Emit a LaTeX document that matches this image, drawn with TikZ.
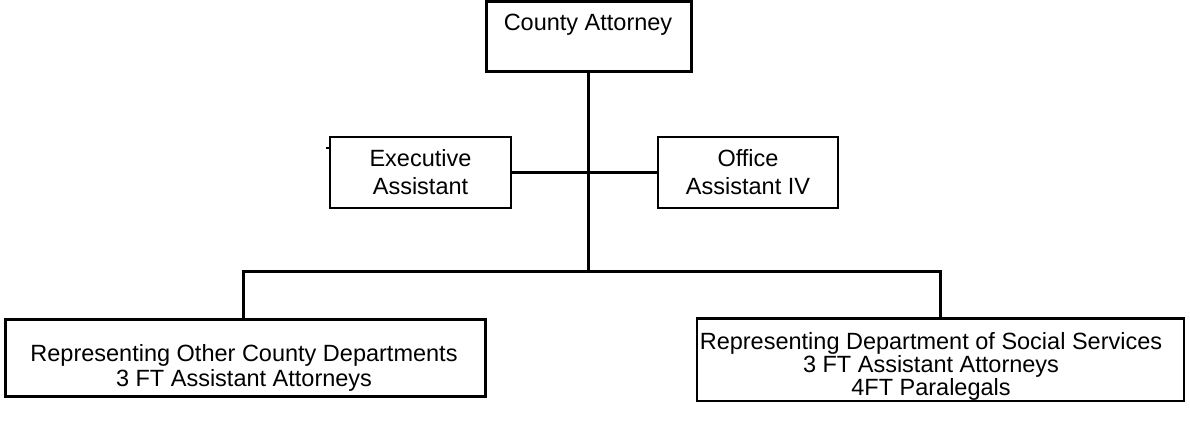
\documentclass[tikz,border=0pt]{standalone}
\usepackage{fontspec}
\setmainfont{Liberation Sans}
\begin{document}
\begin{tikzpicture}[x=1pt,y=-1pt,
  txt/.style={align=center, inner sep=0pt, font=\fontsize{23.5}{25}\selectfont},
  box/.style={draw, rectangle, inner sep=0pt, align=center, font=\fontsize{23.5}{25}\selectfont},
  thickbox/.style={box, line width=3pt},
  thinbox/.style={box, line width=2pt},
  conn/.style={line width=3pt}]
\useasboundingbox (0,0) rectangle (1190,427);
% boxes
\node[thickbox, minimum width=205pt, minimum height=70pt] (ca) at (589,37) {};
\node[txt] (cat) at (588,25) {County Attorney};
\node[thinbox, minimum width=181pt, minimum height=71pt] (ea) at (420.5,172.5) {Executive\\[3pt]Assistant};
\node[thinbox, minimum width=180pt, minimum height=71pt] (oa) at (748,172.5) {Office\\[3pt]Assistant IV};
\node[thickbox, minimum width=480pt, minimum height=77pt] (lb) at (245,357.5) {};
\node[txt] (lt) at (244,368) {Representing Other County Departments\\3 FT Assistant Attorneys};
\node[thinbox, minimum width=487pt, minimum height=82pt] (rb) at (940.5,360) {};
\node[txt, font=\fontsize{23.5}{23}\selectfont] (rt) at (931,366) {Representing Department of Social Services\\3 FT Assistant Attorneys\\4FT Paralegals};
\draw[line width=3pt] (rb.north west) -- (rb.north east);
% connectors
\coordinate (j) at (588,272);
\coordinate (ld) at (243,272);
\coordinate (rd) at (940,272);
\draw[conn] (ca.south -| j) -- (j);
\draw[line width=2.5pt] (ea.east) -- (j |- ea.east);
\draw[line width=3.5pt] (oa.west) -- (j |- oa.west);
\draw[conn] (ld |- lb.north) -- (ld) -- (rd) -- (rd |- rb.north);
\draw[line width=2pt] ([yshift=24pt]ea.west) -- ++(-3,0);
\end{tikzpicture}
\end{document}
